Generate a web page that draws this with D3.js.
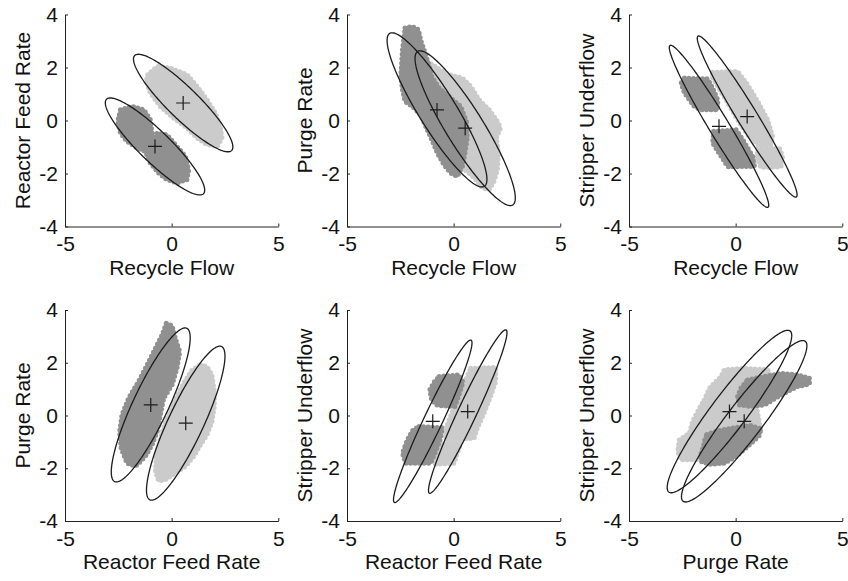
<!DOCTYPE html>
<html>
<head>
<meta charset="utf-8">
<script src="https://cdn.jsdelivr.net/npm/d3@7"></script>
<style>
  html, body { margin: 0; padding: 0; background: #fff; }
  svg text { font-family: "Liberation Sans", Arial, Helvetica, sans-serif; fill: #111; }
</style>
</head>
<body>
<svg id="chart" width="848" height="581"></svg>
<script>
// Process variables plotted pairwise
const variables = ["Recycle Flow", "Reactor Feed Rate", "Purge Rate", "Stripper Underflow"];

// Group means (marked with "+"): group A = darker points, group B = lighter points
const meanA = [-0.78, -0.98, 0.40, -0.22];
const meanB = [0.54, 0.66, -0.29, 0.15];

// Variable pair [x, y] for each panel, row by row
const panelPairs = [[0, 1], [0, 2], [0, 3], [1, 2], [1, 3], [2, 3]];

// Ellipse spread per panel: [half-width in x, half-height in y, correlation]
const ellipseA = [[2.33, 1.83, -0.90], [2.34, 2.91, -0.90], [2.33, 3.06, -0.972],
                  [1.85, 2.92, 0.87], [1.84, 3.08, 0.965], [2.94, 3.06, 0.935]];
const ellipseB = [[2.33, 1.84, -0.90], [2.35, 2.92, -0.90], [2.34, 3.04, -0.972],
                  [1.84, 2.92, 0.87], [1.84, 3.10, 0.965], [2.92, 3.08, 0.935]];

// Outlines of the dense point clouds, one list of regions per panel
const cloudsA = [
  [[[-2.40,0.41],[-1.86,0.53],[-1.31,0.41],[-1.00,0.03],[-0.92,-0.47],[-0.81,-0.72],[-0.68,-0.47],[-0.22,-0.54],[0.25,-0.98],[0.64,-1.35],[0.80,-1.86],[0.72,-2.23],[0.25,-2.36],[-0.22,-2.23],[-0.61,-1.98],[-1.00,-1.60],[-1.23,-1.17],[-1.62,-1.04],[-2.09,-0.79],[-2.40,-0.47],[-2.53,-0.03]]],
  [[[-2.28,3.49],[-1.94,3.55],[-1.65,3.43],[-1.55,3.05],[-1.39,2.67],[-1.19,2.17],[-1.03,1.66],[-0.68,1.23],[-0.22,0.91],[0.33,0.53],[0.60,-0.03],[0.64,-0.66],[0.53,-1.23],[0.41,-1.73],[0.17,-2.11],[-0.14,-1.98],[-0.45,-1.67],[-0.76,-1.23],[-1.03,-0.72],[-1.31,-0.22],[-1.55,0.22],[-1.94,0.53],[-2.28,0.72],[-2.40,1.16],[-2.48,1.66],[-2.44,2.17],[-2.40,2.67],[-2.33,3.11]]],
  [[[-2.40,1.60],[-1.31,1.57],[-1.08,1.23],[-0.84,0.78],[-0.84,0.41],[-1.62,0.41],[-1.94,0.53],[-2.40,1.04],[-2.56,1.41]],
   [[-1.03,-0.41],[0.02,-0.35],[0.33,-0.72],[0.80,-1.35],[0.88,-1.73],[-0.37,-1.75],[-0.68,-1.35],[-1.08,-0.85]]],
  [[[-0.25,3.50],[0.02,3.41],[0.17,2.93],[0.38,2.42],[0.25,1.79],[0.02,1.16],[-0.37,0.66],[-0.53,0.02],[-0.68,-0.61],[-0.92,-1.11],[-1.23,-1.55],[-1.70,-1.93],[-2.09,-1.81],[-2.37,-1.24],[-2.44,-0.61],[-2.33,0.02],[-2.02,0.66],[-1.55,1.29],[-1.15,1.92],[-0.76,2.55],[-0.45,3.05]]],
  [[[-0.68,1.48],[0.25,1.54],[0.44,1.26],[0.25,0.78],[0.06,0.34],[-0.76,0.38],[-1.03,0.59],[-1.12,0.97],[-0.92,1.26]],
   [[-1.62,-0.42],[-0.53,-0.46],[-0.61,-0.86],[-0.84,-1.36],[-1.08,-1.81],[-2.25,-1.81],[-2.40,-1.43],[-2.17,-0.92],[-1.90,-0.54]]],
  [[[0.56,1.35],[1.35,1.48],[2.13,1.60],[2.91,1.54],[3.46,1.41],[3.46,1.19],[2.91,1.10],[2.44,0.91],[1.89,0.66],[1.35,0.40],[0.72,0.34],[0.17,0.40],[0.09,0.72],[0.25,1.04]],
   [[-1.35,-0.72],[-0.84,-0.58],[-0.06,-0.46],[0.72,-0.38],[1.19,-0.51],[1.11,-0.76],[0.56,-1.18],[0.02,-1.55],[-0.53,-1.81],[-1.20,-1.85],[-1.60,-1.75],[-1.65,-1.50],[-1.50,-1.15],[-1.45,-0.92]]]
];
const cloudsB = [
  [[[-1.12,1.73],[-0.68,2.04],[-0.06,1.98],[0.72,1.73],[1.19,1.29],[1.66,0.78],[2.05,0.28],[2.28,-0.22],[2.36,-0.66],[2.13,-0.98],[1.66,-0.91],[1.19,-0.66],[0.72,-0.28],[0.09,0.09],[-0.53,0.53],[-1.00,1.04],[-1.19,1.48]]],
  [[[-1.23,2.23],[-0.76,1.98],[-0.22,1.73],[0.41,1.60],[0.80,1.29],[1.19,0.78],[1.66,0.41],[2.05,-0.03],[2.20,-0.28],[2.00,-0.66],[2.10,-1.23],[2.05,-1.86],[1.89,-2.30],[1.66,-2.61],[1.35,-2.55],[1.03,-2.23],[0.72,-1.98],[0.25,-1.73],[-0.22,-1.10],[-0.53,0.09],[-1.00,0.91],[-1.31,1.66]]],
  [[[-1.08,1.82],[0.09,1.85],[0.56,1.35],[1.03,0.72],[1.50,0.03],[1.73,-0.60],[1.66,-0.91],[1.11,-0.96],[0.56,-0.54],[0.09,0.03],[-0.37,0.66],[-0.84,1.29],[-1.12,1.66]],
   [[1.03,-1.08],[2.05,-1.04],[2.20,-1.35],[2.13,-1.75],[1.19,-1.77],[1.00,-1.42]]],
  [[[1.35,1.92],[1.66,1.85],[1.89,1.54],[2.00,0.91],[2.00,0.34],[1.89,-0.23],[1.66,-0.73],[1.35,-1.11],[1.03,-1.55],[0.64,-1.93],[0.17,-2.18],[-0.30,-2.44],[-0.61,-2.48],[-0.76,-2.12],[-0.72,-1.55],[-0.53,-0.86],[-0.22,-0.10],[0.17,0.59],[0.56,1.22],[0.96,1.73]]],
  [[[0.80,1.79],[1.97,1.82],[1.97,1.29],[1.73,0.72],[1.42,0.09],[1.11,-0.48],[0.96,-0.86],[-0.37,-0.92],[-0.37,-0.48],[-0.06,0.15],[0.17,0.59],[0.49,1.22]],
   [[-0.76,-1.09],[0.33,-1.04],[0.17,-1.43],[0.02,-1.81],[-0.92,-1.85],[-1.00,-1.49]]],
  [[[-1.47,0.59],[-1.23,1.04],[-0.68,1.48],[-0.53,1.73],[0.41,1.79],[1.50,1.73],[1.66,1.48],[1.35,0.91],[0.96,0.40],[1.19,-0.61],[0.72,-0.66],[-0.53,-1.36],[-1.00,-1.68],[-2.56,-1.68],[-2.72,-1.36],[-2.64,-0.92],[-2.17,-0.67],[-2.02,-0.23],[-1.70,0.28]]]
];

// Axis ranges and tick values
const xDomain = [-5, 5];
const yDomain = [-4, 4];
const xTicks = [-5, 0, 5];
const yTicks = [-4, -2, 0, 2, 4];

// Layout
const colLeft = [65, 347, 629];
const plotW = 213.3;
const rowTop = [14.5, 310];
const rowBottom = [226.5, 521];
const fontSize = 21;
const colorA = "#909090";
const colorB = "#cbcbcb";
const inkColor = "#1c1c1c";

const svg = d3.select("#chart");

// Ellipse outline from a 2x2 spread (Cholesky form)
function ellipsePoints(cx, cy, hx, hy, r) {
  const pts = [];
  const s = Math.sqrt(1 - r * r);
  for (let k = 0; k < 180; k++) {
    const t = (k / 180) * 2 * Math.PI;
    const c = Math.cos(t), sn = Math.sin(t);
    pts.push([cx + hx * c, cy + hy * (r * c + s * sn)]);
  }
  return pts;
}

panelPairs.forEach((pair, i) => {
  const col = i % 3, row = Math.floor(i / 3);
  const x = d3.scaleLinear().domain(xDomain).range([colLeft[col], colLeft[col] + plotW]);
  const y = d3.scaleLinear().domain(yDomain).range([rowBottom[row], rowTop[row]]);
  const g = svg.append("g").attr("class", "panel");

  const line = d3.line()
    .x(d => x(d[0]))
    .y(d => y(d[1]))
    .curve(d3.curveLinearClosed);

  // point clouds: lighter group first, darker group on top;
  // a dotted rim gives the ragged edge of the dense markers
  [[cloudsB[i], colorB], [cloudsA[i], colorA]].forEach(([regions, color]) => {
    const cg = g.append("g");
    cg.selectAll("path.fill").data(regions).join("path")
      .attr("class", "fill")
      .attr("d", line)
      .attr("fill", color)
      .attr("stroke", color)
      .attr("stroke-width", 2)
      .attr("stroke-linejoin", "round");
    cg.selectAll("path.rim").data(regions).join("path")
      .attr("class", "rim")
      .attr("d", line)
      .attr("fill", "none")
      .attr("stroke", color)
      .attr("stroke-width", 5)
      .attr("stroke-linecap", "round")
      .attr("stroke-dasharray", "0 4.5");
  });

  // confidence ellipses
  const [xi, yi] = pair;
  const ellipses = [
    ellipsePoints(meanA[xi], meanA[yi], ...ellipseA[i]),
    ellipsePoints(meanB[xi], meanB[yi], ...ellipseB[i])
  ];
  g.append("g").selectAll("path").data(ellipses).join("path")
    .attr("d", line)
    .attr("fill", "none")
    .attr("stroke", inkColor)
    .attr("stroke-width", 1.3);

  // group means
  const means = [[meanA[xi], meanA[yi]], [meanB[xi], meanB[yi]]];
  g.append("g").selectAll("path").data(means).join("path")
    .attr("d", d => {
      const px = x(d[0]), py = y(d[1]), a = 7;
      return `M${px - a},${py}H${px + a}M${px},${py - a}V${py + a}`;
    })
    .attr("stroke", inkColor)
    .attr("stroke-width", 1.2)
    .attr("fill", "none");

  // axes
  const xAxis = g.append("g")
    .attr("transform", `translate(0,${rowBottom[row]})`)
    .call(d3.axisBottom(x).tickValues(xTicks).tickSizeInner(-3).tickSizeOuter(0)
      .tickPadding(10).tickFormat(d => String(d)));
  const yAxis = g.append("g")
    .attr("transform", `translate(${colLeft[col]},0)`)
    .call(d3.axisLeft(y).tickValues(yTicks).tickSizeInner(-3).tickSizeOuter(0)
      .tickPadding(7).tickFormat(d => String(d)));
  [xAxis, yAxis].forEach(a => {
    a.attr("font-size", fontSize).attr("font-family", null);
    a.selectAll(".domain, .tick line").attr("stroke", "#222").attr("stroke-width", 1);
    a.selectAll("text").attr("fill", "#111");
  });

  // axis titles
  g.append("text")
    .attr("x", colLeft[col] + plotW / 2)
    .attr("y", rowBottom[row] + 48)
    .attr("text-anchor", "middle")
    .attr("font-size", fontSize)
    .text(variables[xi]);
  const midY = (rowTop[row] + rowBottom[row]) / 2;
  g.append("text")
    .attr("transform", `translate(${colLeft[col] - 35},${midY}) rotate(-90)`)
    .attr("text-anchor", "middle")
    .attr("font-size", fontSize)
    .text(variables[yi]);
});
</script>
</body>
</html>
